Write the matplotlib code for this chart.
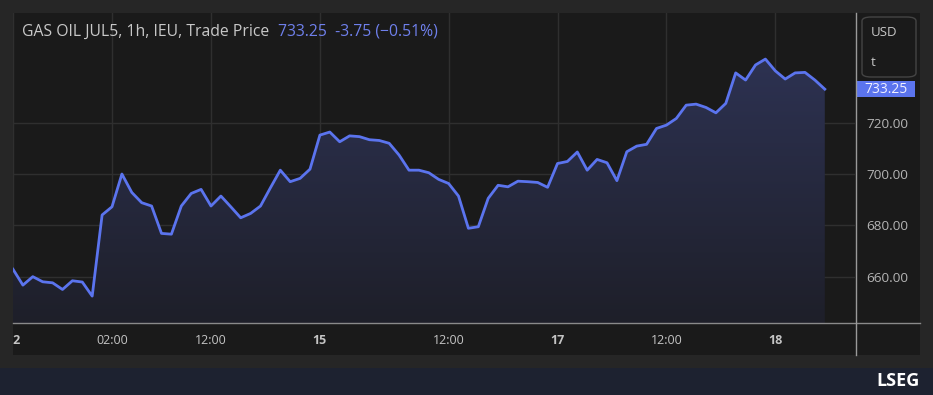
import matplotlib
matplotlib.use("Agg")
import matplotlib.pyplot as plt
import numpy as np
from matplotlib.patches import Rectangle, FancyBboxPatch
from matplotlib.lines import Line2D
from matplotlib.transforms import Bbox, TransformedBbox

plt.rcParams['font.family'] = ['Open Sans', 'DejaVu Sans']

# hourly trade price, GAS OIL JUL5
prices = [662.9, 656.7, 660.0, 658.0, 657.6, 655.0, 658.4, 657.9, 652.4, 684.1,
          687.3, 700.1, 692.9, 688.9, 687.6, 676.9, 676.6, 687.6, 692.5, 694.1,
          687.6, 691.5, 687.3, 683.0, 684.7, 687.6, 694.7, 701.6, 697.1, 698.4,
          702.0, 715.3, 716.5, 712.7, 715.0, 714.7, 713.5, 713.2, 712.1, 707.5,
          701.6, 701.6, 700.6, 698.0, 696.4, 691.5, 678.9, 679.5, 690.6, 695.7,
          695.1, 697.3, 697.1, 696.8, 694.9, 704.2, 705.0, 708.7, 701.6, 705.8,
          704.5, 697.5, 708.8, 711.0, 711.7, 717.9, 719.2, 721.8, 727.0, 727.4,
          726.1, 724.0, 727.7, 739.6, 736.8, 742.7, 745.0, 740.4, 737.2, 739.6,
          739.8, 736.8, 733.25]
tick_idx = [0, 10, 20, 31, 44, 55, 66, 77]
tick_labels = ["12", "02:00", "12:00", "15", "12:00", "17", "12:00", "18"]
bold_labels = ["12", "15", "17", "18"]
y_ticks = [660, 680, 700, 720]
last_price = 733.25
change = -3.75
change_pct = -0.51

W, H = 933, 395
fig = plt.figure(figsize=(W / 100, H / 100), dpi=100)
fig.patch.set_facecolor("#262626")

def fx(px):
    return px / W

def fy(py):
    return 1 - py / H

# chart panel and footer band
fig.patches.append(Rectangle((fx(13), fy(355)), fx(920 - 13), (355 - 13) / H,
                             transform=fig.transFigure, facecolor="#1a1a1a", edgecolor="none", zorder=-5))
fig.patches.append(Rectangle((0, 0), 1, (395 - 368) / H,
                             transform=fig.transFigure, facecolor="#1d2230", edgecolor="none", zorder=-5))

ax = fig.add_axes([fx(13), fy(323), fx(855 - 13), (323 - 13) / H])
ax.patch.set_alpha(0)

x = np.arange(len(prices))
ymin, ymax = 641.9, 763

# gradient fill under the line
poly = ax.fill_between(x, prices, 600, color="none")
grad = np.linspace(0, 1, 256).reshape(-1, 1)
img = ax.imshow(grad, extent=[0, len(prices) - 1, ymin, max(prices)], origin="lower",
                aspect="auto", cmap=matplotlib.colors.LinearSegmentedColormap.from_list(
                    "g", ["#1e1f29", "#2d3252"]), zorder=1)
img.set_clip_path(poly.get_paths()[0], transform=ax.transData)

ax.plot(x, prices, color="#5b74ee", lw=2, zorder=3, solid_joinstyle="round")
ax.set_xlim(0, (855 - 13) / 9.9)
ax.set_ylim(ymin, ymax)

ax.set_yticks(y_ticks)
ax.yaxis.tick_right()
ax.set_yticklabels([f"{v:.2f}" for v in y_ticks])
ax.tick_params(axis="y", length=0, pad=8, labelsize=9.7, labelcolor="#b4b4b4")
ax.set_xticks(tick_idx)
ax.set_xticklabels(tick_labels)
ax.tick_params(axis="x", length=0, pad=8, labelsize=9, labelcolor="#c4c4c4")
clip = TransformedBbox(Bbox([[fx(13), 0], [fx(920), 1]]), fig.transFigure)
for lab in ax.get_xticklabels():
    if lab.get_text() in bold_labels:
        lab.set_fontweight("bold")
    lab.set_clip_box(clip)
    lab.set_clip_on(True)
ax.grid(True, color="#2f2f2f", lw=1, zorder=0)
ax.set_axisbelow(True)
for s in ax.spines.values():
    s.set_visible(False)

# axis lines
fig.lines.append(Line2D([fx(13), fx(920)], [fy(323), fy(323)], transform=fig.transFigure,
                        color="#8a8a8a", lw=1))
fig.lines.append(Line2D([fx(855.5), fx(855.5)], [fy(13), fy(355)], transform=fig.transFigure,
                        color="#9a9a9a", lw=1))

# header
fig.text(fx(22), fy(32), "GAS OIL JUL5, 1h, IEU, Trade Price", color="#c8c8c8",
         fontsize=11.3, va="center")
fig.text(fx(278), fy(32), f"{last_price:.2f}  {change:.2f} (\u2212{abs(change_pct):.2f}%)",
         color="#6f80ec", fontsize=11.3, va="center")

# unit box
fig.patches.append(FancyBboxPatch((fx(862), fy(77)), fx(916 - 862), (77 - 17) / H,
                                  boxstyle="round,pad=0,rounding_size=0.01",
                                  transform=fig.transFigure, facecolor="#1a1a1a",
                                  edgecolor="#444444", lw=1))
fig.text(fx(871), fy(32), "USD", color="#c8c8c8", fontsize=9.5, va="center")
fig.text(fx(871), fy(62), "t", color="#c8c8c8", fontsize=9.5, va="center")

# last price tag
ytag = ax.transData.transform((0, last_price))[1] / fig.bbox.height
fig.patches.append(Rectangle((fx(857), ytag - 8 / H), fx(915 - 857), 16 / H,
                             transform=fig.transFigure, facecolor="#5b74ee", edgecolor="none"))
fig.text(fx(886), ytag, f"{last_price:.2f}", color="#f0f0ff", fontsize=10,
         ha="center", va="center")

# footer logo text
fig.text(fx(920), fy(381), "LSEG", color="white", fontsize=13, fontweight="bold",
         ha="right", va="center")

fig.savefig("out.png", dpi=100, facecolor=fig.get_facecolor())
